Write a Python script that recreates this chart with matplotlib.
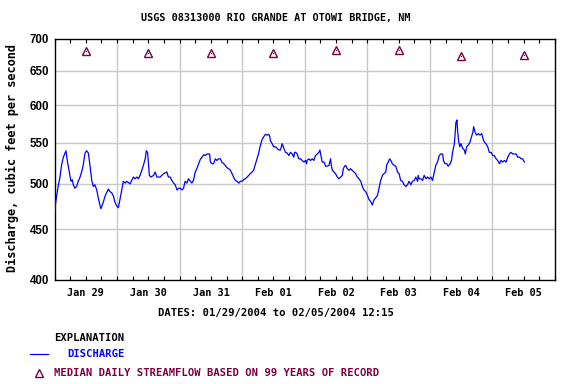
import numpy as np
import matplotlib
matplotlib.use('Agg')
import matplotlib.pyplot as plt
from matplotlib.ticker import FixedLocator, NullLocator

# hours after 01/29/2004 00:00 and discharge (cfs)
hours = [
    0.0, 0.3, 0.8, 1.4, 2.1, 2.7, 3.4, 4.0, 4.4, 4.9, 5.3, 5.9, 6.3, 6.8, 7.2, 7.8,
    8.5, 9.1, 9.8, 10.4, 11.0, 11.7, 12.3, 13.0, 13.6, 14.3, 14.9, 15.5, 16.2, 16.8,
    17.5, 17.8, 18.7, 19.4, 20.0, 20.7, 21.3, 21.9, 22.6, 23.2, 23.9, 24.5, 25.1,
    25.8, 26.4, 27.1, 27.7, 29.0, 29.6, 30.3, 30.9, 31.6, 32.2, 32.8, 33.5, 34.1,
    34.8, 35.2, 35.7, 36.1, 36.4, 37.0, 38.0, 38.6, 39.3, 40.5, 41.8, 43.1, 43.7,
    44.4, 45.0, 45.7, 46.3, 47.0, 47.6, 48.2, 48.9, 49.5, 50.1, 50.8, 51.4, 52.1,
    52.7, 53.3, 54.0, 54.6, 55.3, 55.9, 56.6, 57.2, 57.8, 58.5, 59.1, 59.5, 59.8,
    60.4, 61.0, 61.7, 62.3, 63.0, 63.6, 64.2, 64.9, 65.5, 66.2, 66.8, 67.5, 68.1,
    68.7, 69.4, 70.0, 70.7, 71.3, 71.9, 72.6, 73.2, 73.9, 74.5, 75.1, 75.8, 76.4,
    77.1, 77.7, 78.4, 79.0, 79.6, 80.3, 80.9, 81.6, 82.2, 82.6, 82.8, 83.5, 84.1,
    84.8, 85.4, 86.0, 86.7, 87.3, 88.0, 88.6, 89.3, 89.9,
    90.5, 91.2, 91.8, 92.1, 92.5, 93.1, 93.7, 94.4, 95.0, 95.7, 96.3, 96.7, 96.9,
    97.6, 98.2, 98.9, 99.5, 100.1, 100.8, 101.4, 101.8, 102.1, 102.7, 103.4, 104.0,
    104.6, 105.3, 105.9, 106.2, 106.6, 107.2, 107.8, 108.5, 109.1, 109.8, 110.4,
    110.8, 111.3, 111.7, 112.3, 113.0, 113.6, 114.2, 114.9, 115.5, 116.2, 116.8,
    117.5, 118.1, 118.7, 119.4, 120.0, 120.7, 121.3, 121.9, 122.6, 123.2, 123.9,
    124.5, 125.1, 125.8, 126.4, 127.1, 127.4, 128.0, 128.6, 129.0, 129.6, 130.3,
    130.9, 131.6, 132.2, 132.8, 133.5, 134.1, 134.8, 135.4, 136.0,
    136.7, 137.3, 138.0, 138.6, 139.3, 139.5, 139.9, 140.5, 141.2, 141.8, 142.5,
    143.1, 143.7, 144.4, 145.0, 145.7, 146.3, 146.9, 147.6, 148.2, 148.9, 149.2,
    149.8, 150.5, 151.0, 151.8, 152.3, 152.7, 153.4, 153.7, 154.0, 154.4, 154.6,
    155.0, 155.5, 155.9, 156.6, 157.2, 157.6, 158.1, 158.7, 159.4, 160.0, 160.5,
    160.8, 161.3, 161.9, 162.6, 163.2, 163.9, 164.3, 164.9, 165.5, 166.2, 166.8,
    167.5, 168.1, 168.7, 169.4, 170.0, 170.7, 171.3, 171.9, 172.6, 173.2, 173.9,
    174.5, 175.1, 175.8, 176.4, 177.1, 177.7, 178.4, 179.0, 179.6, 180.25,
]
discharge = [
    463, 475, 486, 497, 508, 522, 532, 537, 540, 528, 521, 510, 503, 505, 499, 495,
    497, 503, 508, 514, 522, 537, 540, 537, 522, 504, 497, 499, 493, 484,
    475, 472, 479, 486, 490, 494, 491, 490, 486, 479, 475, 473, 482,
    493, 503, 501, 503, 500, 504, 508, 506, 508, 506, 510, 516, 522,
    530, 540, 538, 522, 510, 508, 510, 514, 508, 508, 512, 514, 508,
    508, 504, 501, 499, 493, 495, 495, 493, 495, 503, 501, 506, 503,
    501, 504, 514, 518, 524, 529, 532, 535, 534, 536, 536, 536, 526,
    524, 524, 530, 528, 530, 530, 526, 524, 522, 519, 518, 516, 512,
    508, 504, 503, 501, 503, 503, 505, 506, 508, 510, 512, 514, 516,
    524, 530, 538, 547, 554, 558, 561, 560, 561, 558, 553, 549, 545,
    545, 543, 541, 541, 549, 543, 538, 537, 534,
    538, 536, 532, 538, 538, 536, 530, 530, 528, 526, 528, 524, 528,
    530, 528, 530, 528, 534, 536, 538, 541, 536, 526, 526, 521,
    521, 522, 530, 522, 516, 514, 512, 508, 506, 508, 510,
    518, 521, 522, 518, 516, 518, 516, 514, 512, 508, 506,
    503, 497, 493, 491, 487, 482, 480, 476, 482, 484, 487,
    495, 504, 510, 512, 514, 522, 526, 530, 528, 524, 522,
    521, 514, 512, 504, 503, 499, 497, 499, 503,
    499, 503, 504, 508, 503, 510, 506, 506, 504, 510, 506,
    508, 506, 508, 504, 514, 522, 526, 534, 536, 536, 528,
    524, 524, 521, 524, 528, 538, 549, 562, 577, 580, 567,
    553, 545, 549, 543, 541, 536, 545, 547, 551, 558, 564,
    571, 564, 560, 562, 560, 562, 556, 551, 549, 545, 538,
    538, 534, 534, 530, 528, 524, 528, 526, 528, 526, 532,
    536, 538, 536, 536, 536, 532, 532, 530, 530, 526,
]

# median daily streamflow, plotted at noon of each day
median_hours = [12, 36, 60, 84, 108, 132, 156, 180]
median_flow = [681, 678, 677, 678, 682, 682, 673, 675]

day_labels = ['Jan 29', 'Jan 30', 'Jan 31', 'Feb 01',
              'Feb 02', 'Feb 03', 'Feb 04', 'Feb 05']
y_ticks = [400, 450, 500, 550, 600, 650, 700]

MONO = 'DejaVu Sans Mono'
MAROON = '#7a0040'
GRID = '#c8c8c8'


def main():
    fig = plt.figure(figsize=(5.76, 3.84), dpi=100)
    ax = fig.add_axes([54.5 / 576, 1 - 280 / 384, 500.5 / 576, 241 / 384])

    ax.set_yscale('log')
    ax.set_ylim(400, 700)
    ax.set_xlim(0, 192)

    # grid: horizontal at y ticks, vertical at each midnight
    for v in y_ticks[1:-1]:
        ax.axhline(v, color=GRID, lw=1.0, zorder=1)
    for d in range(24, 192, 24):
        ax.axvline(d, color=GRID, lw=1.0, zorder=1)

    ax.plot(hours, discharge, color='#0000ff', lw=0.9, zorder=3)
    ax.plot(median_hours, median_flow, linestyle='none', marker='^', ms=5.5,
            mfc='none', mec=MAROON, mew=1.0, zorder=4)
    ax.plot(median_hours, median_flow, linestyle='none', marker='s', ms=0.8,
            mfc=MAROON, mec=MAROON, mew=0, zorder=4)

    ax.yaxis.set_major_locator(FixedLocator(y_ticks))
    ax.yaxis.set_minor_locator(NullLocator())
    ax.set_yticklabels([str(v) for v in y_ticks],
                       fontfamily='Liberation Sans', fontweight='bold', fontsize=8.3)
    ax.tick_params(axis='y', length=0, pad=4)

    # 6-hour tick marks, day labels centred at noon
    ax.xaxis.remove_overlapping_locs = False
    ax.set_xticks(np.arange(0, 193, 6))
    ax.set_xticklabels([])
    ax.tick_params(axis='x', which='major', direction='in', length=3,
                   top=True, width=0.8)
    ax.set_xticks([12 + 24 * i for i in range(8)], minor=True)
    ax.set_xticklabels(day_labels, minor=True, fontfamily=MONO,
                       fontweight='bold', fontsize=7.4)
    ax.tick_params(axis='x', which='minor', length=0, pad=6)

    for s in ax.spines.values():
        s.set_linewidth(1.0)
        s.set_color('black')

    fig.text(12.5 / 576, 1 - 158.5 / 384, 'Discharge, cubic feet per second',
             rotation=90, ha='center', va='center', fontfamily=MONO,
             fontweight='bold', fontsize=8.6)
    fig.text(275.5 / 576, 1 - 18 / 384, 'USGS 08313000 RIO GRANDE AT OTOWI BRIDGE, NM',
             ha='center', va='center', fontfamily=MONO, fontweight='bold', fontsize=7.3)
    fig.text(275.5 / 576, 1 - 313 / 384, 'DATES: 01/29/2004 to 02/05/2004 12:15',
             ha='center', va='center', fontfamily=MONO, fontweight='bold', fontsize=7.6)

    # explanation block
    fig.text(54 / 576, 1 - 338 / 384, 'EXPLANATION', ha='left', va='center',
             fontfamily=MONO, fontweight='bold', fontsize=7.6)
    fig.lines.append(plt.Line2D([30 / 576, 48 / 576], [1 - 354 / 384] * 2,
                                transform=fig.transFigure, color='#0000ff', lw=0.9))
    fig.text(67 / 576, 1 - 354 / 384, 'DISCHARGE', ha='left', va='center',
             fontfamily=MONO, fontweight='bold', fontsize=7.6, color='#0000ff')
    fig.lines.append(plt.Line2D([39 / 576], [1 - 372.5 / 384], transform=fig.transFigure,
                                marker='^', ms=5.5, mfc='none', mec=MAROON, mew=1.0,
                                linestyle='none'))
    fig.text(54 / 576, 1 - 373 / 384, 'MEDIAN DAILY STREAMFLOW BASED ON 99 YEARS OF RECORD',
             ha='left', va='center', fontfamily=MONO, fontweight='bold',
             fontsize=7.6, color=MAROON)

    fig.savefig('out.png', dpi=100)


if __name__ == '__main__':
    main()
